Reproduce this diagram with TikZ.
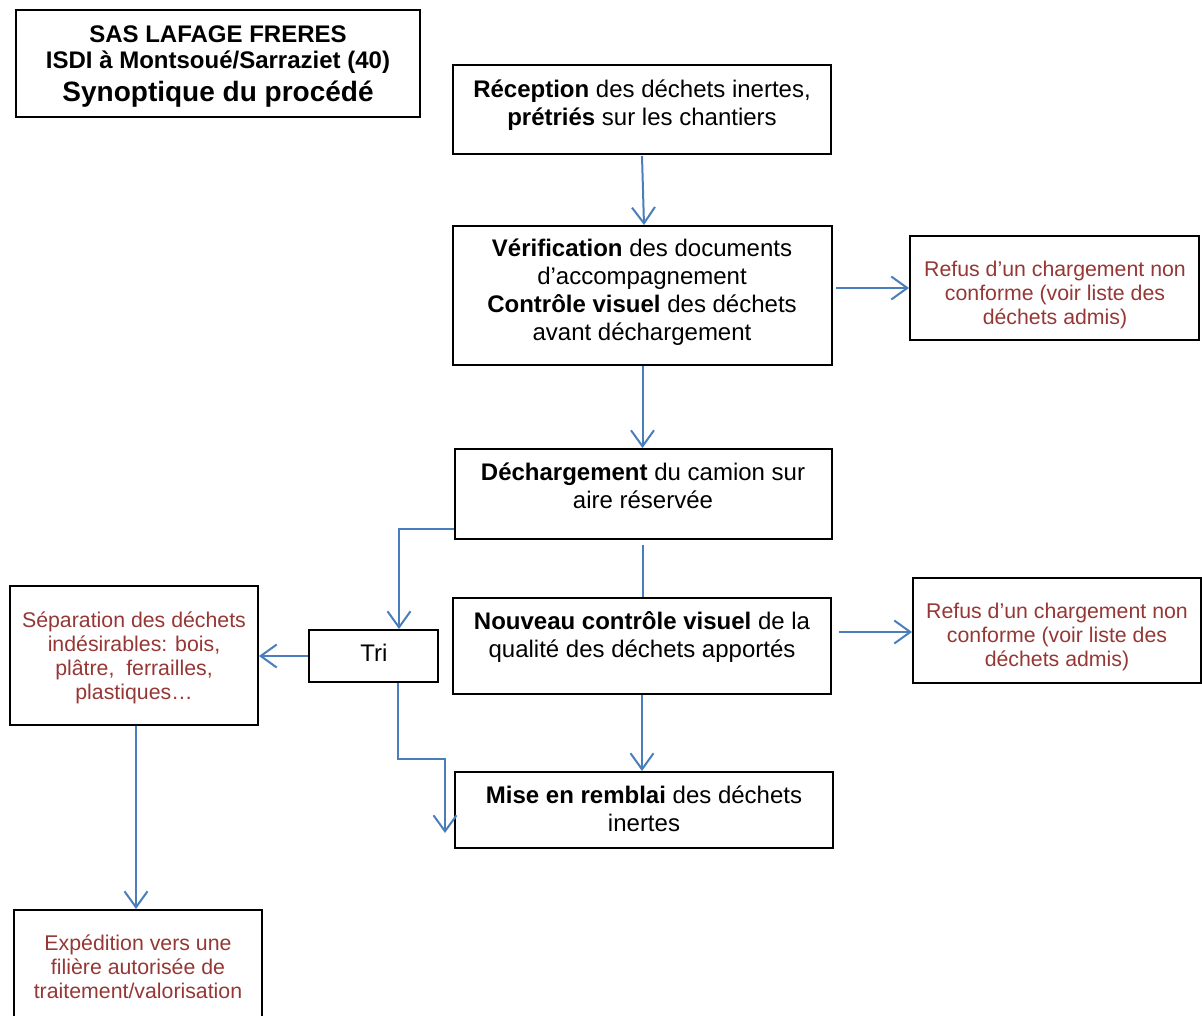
\documentclass[tikz,border=0pt]{standalone}
\usepackage{fontspec}
\setmainfont{Liberation Sans}
\usetikzlibrary{arrows.meta,calc}
\definecolor{arrblue}{HTML}{4A7EBB}
\definecolor{txtred}{HTML}{953735}
\tikzset{
  box/.style={draw=black, line width=2pt, rectangle, inner sep=0pt},
  txt/.style={align=center, inner sep=0pt, font=\fontsize{24}{28}\selectfont},
  rtxt/.style={align=center, inner sep=0pt, text=txtred, font=\fontsize{21.3}{24}\selectfont},
  ttl/.style={anchor=base, inner sep=0pt, font=\bfseries\fontsize{24}{27}\selectfont},
  conn/.style={draw=arrblue, line width=2pt},
  arr/.style={conn, -{Straight Barb[length=16pt,width=23pt,line width=2pt]}}
}
\begin{document}
\begin{tikzpicture}[x=1pt,y=-1pt]
\useasboundingbox (0,0) rectangle (1202,1015);
\clip (0,0) rectangle (1202,1015);
% boxes
\node[box, minimum width=404pt, minimum height=107pt] (title) at (218,63.5) {};
\node[box, minimum width=378pt, minimum height=89pt] (rec) at (642,109.5) {};
\node[box, minimum width=379pt, minimum height=139pt] (ver) at (642.5,295.5) {};
\node[box, minimum width=289pt, minimum height=104pt] (ref1) at (1054.5,288) {};
\node[box, minimum width=377pt, minimum height=90pt] (dech) at (643.5,494) {};
\node[box, minimum width=378pt, minimum height=96pt] (nouv) at (642,646) {};
\node[box, minimum width=288pt, minimum height=105pt] (ref2) at (1057,630.5) {};
\node[box, minimum width=129pt, minimum height=52pt] (tri) at (373.5,656) {};
\node[box, minimum width=248pt, minimum height=139pt] (sep) at (134,655.5) {};
\node[box, minimum width=378pt, minimum height=76pt] (mise) at (644,810) {};
\node[box, minimum width=248pt, minimum height=130pt] (exp) at (138,975) {};
% texts
\node[ttl] (title1) at (218,42) {SAS LAFAGE FRERES};
\node[ttl] (title2) at (218,68.5) {ISDI à Montsoué/Sarraziet (40)};
\node[ttl, font=\bfseries\fontsize{28}{32}\selectfont] (title3) at (218,101.5) {Synoptique du procédé};
\node[txt] (rect) at (642,105) {\textbf{Réception} des déchets inertes,\\\textbf{prétriés} sur les chantiers};
\node[txt] (vert) at (642,292) {\textbf{Vérification} des documents\\d’accompagnement\\\textbf{Contrôle visuel} des déchets\\avant déchargement};
\node[rtxt] (ref1t) at (1055,295) {Refus d’un chargement non\\conforme (voir liste des\\déchets admis)};
\node[txt] (decht) at (643,486) {\textbf{Déchargement} du camion sur\\aire réservée};
\node[txt] (trit) at (374,653) {Tri};
\node[txt] (nouvt) at (642,637) {\textbf{Nouveau contrôle visuel} de la\\qualité des déchets apportés};
\node[rtxt] (ref2t) at (1057,637) {Refus d’un chargement non\\conforme (voir liste des\\déchets admis)};
\node[rtxt] (sept) at (134,658) {Séparation des déchets\\indésirables: bois,\\plâtre,~ ferrailles,\\plastiques…};
\node[txt] (miset) at (644,809) {\textbf{Mise en remblai} des déchets\\inertes};
\node[rtxt] (expt) at (138,967) {Expédition vers une\\filière autorisée de\\traitement/valorisation};
% helper coordinates
\coordinate (recs) at ($(rec.south)+(0,1)$);
\coordinate (vern) at ($(ver.north)+(1.5,0)$);
\coordinate (dechl) at ($(dech.south west)+(0,-11)$);
\coordinate (trin) at ($(tri.north west)+(91,0)$);
\coordinate (dechs) at ($(dech.south)+(-1,5)$);
\coordinate (nouve) at ($(nouv.east |- ref2.west)+(7,1.5)$);
\coordinate (ref2w) at ($(ref2.west)+(0,1.5)$);
\coordinate (tris) at ($(tri.south west)+(90,0)$);
\coordinate (misel) at ($(mise.west)+(-9,23)$);
\coordinate (seps) at ($(sep.south)+(2,0)$);
% connectors
\draw[arr] (recs) -- (vern);
\draw[arr] (ver.south) -- (ver.south |- dech.north);
\draw[arr] ($(ver.east |- ref1.west)+(3,0)$) -- (ref1.west);
\draw[arr] (dechl) -| (trin);
\draw[conn] (dechs) -- (dechs |- nouv.north);
\draw[arr] (nouve) -- (ref2w);
\draw[arr] (nouv.south) -- (nouv.south |- mise.north);
\draw[arr] (tri.west) -- (tri.west -| sep.east);
\draw[arr] (tris) -- ++(0,76) -| (misel);
\draw[arr] (seps) -- (seps |- exp.north);
\end{tikzpicture}
\end{document}
